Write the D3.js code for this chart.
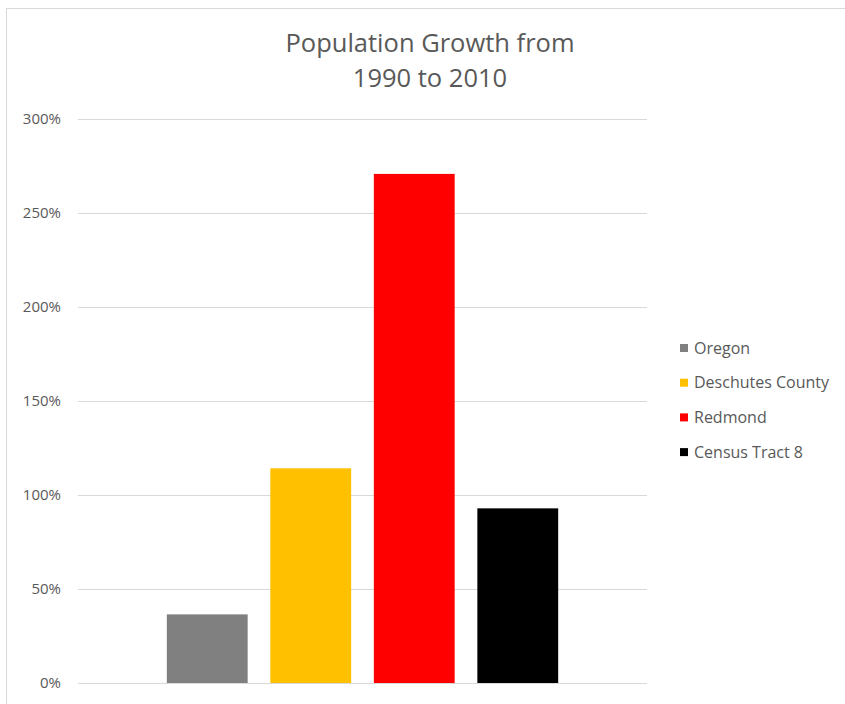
<!DOCTYPE html>
<html><head><meta charset="utf-8">
<script src="https://cdn.jsdelivr.net/npm/d3@7"></script>
<style>body{margin:0;background:#fff}svg{display:block}text{font-family:"Open Sans",sans-serif}</style>
</head><body>
<svg id="c" width="845" height="704"></svg>
<script>
const categories = ["Oregon", "Deschutes County", "Redmond", "Census Tract 8"];
const values = [36.5, 114.2, 270.8, 92.9];
const colors = ["#808080", "#FFC000", "#FF0000", "#000000"];
const yTicks = [0, 50, 100, 150, 200, 250, 300];
const titleLines = ["Population Growth from", "1990 to 2010"];

const svg = d3.select("#c");
svg.append("rect").attr("x", 6.5).attr("y", 8.5).attr("width", 850).attr("height", 710)
  .attr("fill", "#fff").attr("stroke", "#d9d9d9").attr("stroke-width", 1);

const y = d3.scaleLinear().domain([0, 300]).range([683, 119]);
const x = d3.scaleBand().domain(categories).range([78, 647]).paddingInner(0.219).paddingOuter(0.858);

const axis = d3.axisLeft(y).tickValues(yTicks).tickFormat(d => d + "%").tickSize(-(647 - 78)).tickPadding(17);
const g = svg.append("g").attr("transform", "translate(78,0)").call(axis);
g.select(".domain").remove();
g.selectAll(".tick line").attr("stroke", "#d9d9d9").attr("stroke-width", 1);
g.selectAll(".tick text").attr("fill", "#595959").attr("font-size", 15).style("font-family", "'Open Sans', sans-serif");

svg.append("g").selectAll("rect").data(categories).join("rect")
  .attr("x", d => x(d)).attr("width", x.bandwidth())
  .attr("y", (d, i) => y(values[i])).attr("height", (d, i) => y(0) - y(values[i]))
  .attr("fill", (d, i) => colors[i]);

svg.append("g").selectAll("text").data(titleLines).join("text")
  .attr("x", 430).attr("y", (d, i) => 52 + i * 35)
  .attr("text-anchor", "middle").attr("font-size", 25.5).attr("fill", "#595959").text(d => d);

const leg = svg.append("g").selectAll("g").data(categories).join("g")
  .attr("transform", (d, i) => `translate(680,${348 + i * 34.7})`);
leg.append("rect").attr("x", 0).attr("y", -4).attr("width", 8).attr("height", 8).attr("fill", (d, i) => colors[i]);
leg.append("text").attr("x", 14).attr("y", 0).attr("dy", "0.35em").attr("font-size", 16).attr("fill", "#595959").text(d => d);
</script>
</body></html>
